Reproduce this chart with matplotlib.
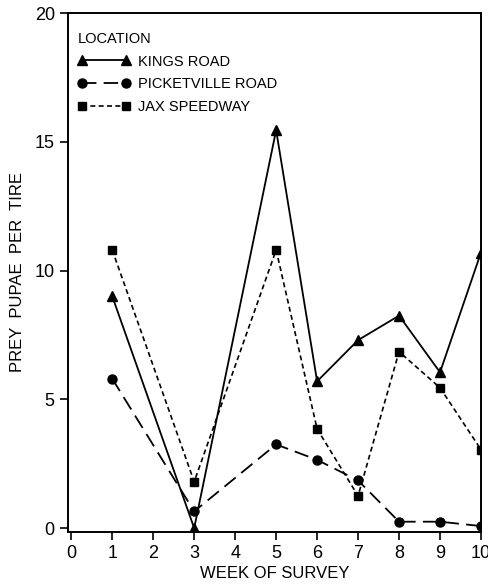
import numpy as np
import matplotlib.pyplot as plt

plt.rcParams['font.family'] = ['Liberation Sans', 'DejaVu Sans']

weeks = [1, 3, 5, 6, 7, 8, 9, 10]
kings = [9.0, 0.0, 15.45, 5.7, 7.3, 8.25, 6.05, 10.7]
picketville = [5.8, 0.65, 3.25, 2.65, 1.85, 0.25, 0.25, 0.08]
jax = [10.8, 1.8, 10.8, 3.85, 1.25, 6.85, 5.45, 3.05]
names = ['KINGS ROAD', 'PICKETVILLE ROAD', 'JAX SPEEDWAY']

fig = plt.figure(figsize=(4.88, 5.84), dpi=100)
ax = fig.add_axes([68 / 488, 1 - 532 / 584, 413 / 488, 519 / 584])

ax.plot(weeks, kings, color='black', linestyle='-', marker='^', markersize=6.5, linewidth=1.3, label=names[0])
ax.plot(weeks, picketville, color='black', linestyle=(0, (8, 4)), marker='o', markersize=6.5, linewidth=1.3, label=names[1])
ax.plot(weeks, jax, color='black', linestyle=(0, (3, 2)), marker='s', markersize=6, linewidth=1.2, label=names[2])

ax.set_xlim(-0.08, 10)
ax.set_ylim(-0.15, 20)
ax.set_xticks(range(0, 11))
ax.set_yticks([0, 5, 10, 15, 20])
ax.tick_params(direction='out', length=6, width=1.2, labelsize=13)
for s in ax.spines.values():
    s.set_linewidth(1.4)

ax.set_xlabel('WEEK OF SURVEY', fontsize=12, labelpad=3)
ax.set_ylabel('PREY  PUPAE  PER  TIRE', fontsize=12, labelpad=7)

leg = ax.legend(loc='upper left', bbox_to_anchor=(4 / 413, 1 - 13 / 519),
                title='LOCATION', frameon=False, numpoints=2,
                handlelength=3.6, fontsize=10.5, title_fontsize=10.5,
                borderaxespad=0, labelspacing=0.6, handletextpad=0.5)
leg._legend_box.align = 'left'

fig.savefig('out.png', dpi=100)
